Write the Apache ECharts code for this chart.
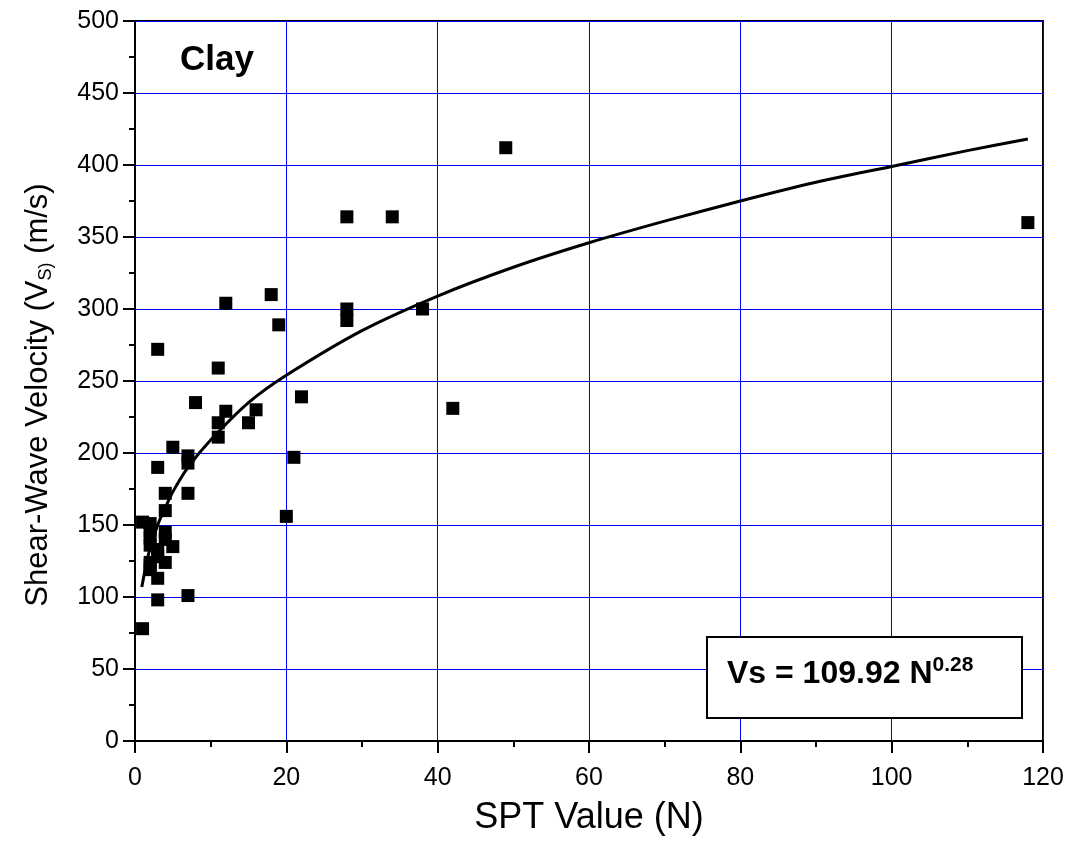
<!DOCTYPE html>
<html><head><meta charset="utf-8">
<script src="https://cdn.jsdelivr.net/npm/echarts@6/dist/echarts.min.js"></script>
<style>html,body{margin:0;padding:0;background:#fff}#c{width:1075px;height:845px}</style>
</head><body><div id="c"></div>
<script>
// Measured data: SPT N value vs shear-wave velocity (m/s)
const sptN = [1, 2, 2, 2, 2, 2, 3, 4, 4, 5, 3, 4, 2, 2, 3, 3, 1, 7, 3, 4, 4, 7, 5, 3,
  7, 7, 8, 11, 11, 11, 12, 12, 15, 16, 18, 19, 20, 21, 22, 28, 28, 28, 34, 38, 42, 49, 118];
const vsValues = [152, 151, 146, 141, 136, 124, 133, 145, 140, 135, 128, 124, 119, 122, 113, 98, 78, 101, 190, 172, 160, 172, 204, 272,
  198, 193, 235, 221, 211, 259, 304, 229, 221, 230, 310, 289, 156, 197, 239, 364, 300, 292, 364, 300, 231, 412, 360];
const fitN  = [0.9, 1.5, 2, 3, 4, 5, 7, 10, 15, 20, 30, 40, 50, 60, 70, 80, 90, 100, 110, 118];
const fitVs = [107, 123, 134, 150, 162, 173, 190, 209, 235, 254, 285, 309, 329, 346, 361, 375, 388, 399, 410, 418];
const xTicks = [0, 20, 40, 60, 80, 100, 120];
const yTicks = [0, 50, 100, 150, 200, 250, 300, 350, 400, 450, 500];

const scatterData = sptN.map((n, i) => [n, vsValues[i]]);
const fitData = fitN.map((n, i) => [n, fitVs[i]]);
const FONT = '"Liberation Sans", Arial, sans-serif';

const chart = echarts.init(document.getElementById('c'), null, {renderer: 'canvas'});
chart.setOption({
  animation: false,
  backgroundColor: '#fff',
  grid: {left: 135, right: 32, top: 21, bottom: 104, show: true, borderColor: '#000', borderWidth: 2, backgroundColor: 'transparent'},
  xAxis: {
    type: 'value', min: xTicks[0], max: xTicks[xTicks.length - 1], interval: 20,
    name: 'SPT Value (N)', nameLocation: 'middle', nameGap: 59,
    nameTextStyle: {fontFamily: FONT, fontSize: 36, color: '#000'},
    axisLine: {show: true, lineStyle: {color: '#000', width: 2}},
    axisTick: {show: true, inside: false, length: 12, lineStyle: {color: '#000', width: 2}},
    minorTick: {show: true, splitNumber: 2, length: 6, lineStyle: {color: '#000', width: 2}},
    axisLabel: {fontFamily: FONT, fontSize: 25, color: '#000', margin: 25},
    splitLine: {show: true, lineStyle: {color: '#0000ff', width: 1, opacity: 1}}
  },
  yAxis: {
    type: 'value', min: yTicks[0], max: yTicks[yTicks.length - 1], interval: 50,
    name: 'Shear-Wave Velocity (V{sub|S)} (m/s)', nameLocation: 'middle', nameGap: 80, nameRotate: 90,
    nameTextStyle: {fontFamily: FONT, fontSize: 31, color: '#000', padding: [0, 28, 0, 0],
      rich: {sub: {fontFamily: FONT, fontSize: 18, color: '#000', verticalAlign: 'bottom', padding: [16, 0, 0, 0]}}},
    axisLine: {show: true, lineStyle: {color: '#000', width: 2}},
    axisTick: {show: true, inside: false, length: 12, lineStyle: {color: '#000', width: 2}},
    minorTick: {show: true, splitNumber: 2, length: 6, lineStyle: {color: '#000', width: 2}},
    axisLabel: {fontFamily: FONT, fontSize: 25, color: '#000', margin: 16},
    splitLine: {show: true, lineStyle: {color: '#0000ff', width: 1, opacity: 1}}
  },
  series: [
    {type: 'scatter', data: scatterData, symbol: 'rect', symbolSize: 13,
     itemStyle: {color: '#000', opacity: 1}, z: 3},
    {type: 'line', data: fitData, smooth: 0.3, showSymbol: false,
     lineStyle: {color: '#000', width: 3}, z: 4}
  ],
  graphic: [
    {type: 'text', left: 180, top: 43, z: 10,
     style: {text: 'Clay', fontFamily: FONT, fontWeight: 'bold', fontSize: 35, fill: '#000'}},
    {type: 'rect', shape: {x: 707, y: 637, width: 315, height: 81}, z: 10,
     style: {fill: '#fff', stroke: '#000', lineWidth: 2}},
    {type: 'text', left: 727, top: 655, z: 11,
     style: {text: '{m|Vs = 109.92 N}{s|0.28}', fill: '#000',
       rich: {m: {fontFamily: FONT, fontWeight: 'bold', fontSize: 32, fill: '#000'},
              s: {fontFamily: FONT, fontWeight: 'bold', fontSize: 21, fill: '#000', verticalAlign: 'top', padding: [0, 0, 18, 0]}}}}
  ]
});
</script>
</body></html>
